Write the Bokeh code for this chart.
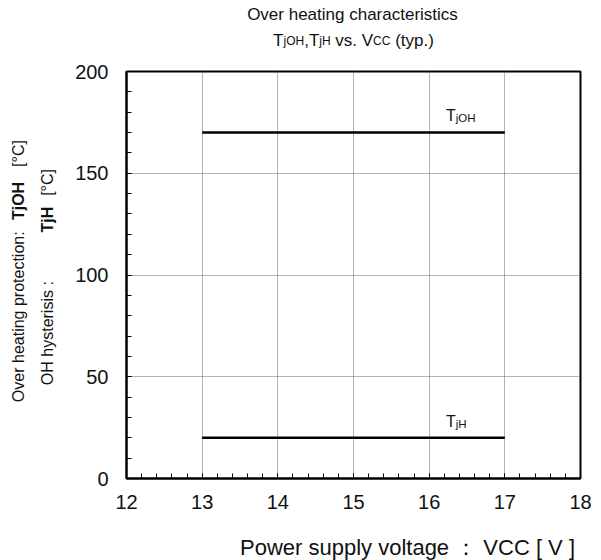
import math
from bokeh.plotting import figure
from bokeh.models import Label, Range1d, FixedTicker
from bokeh.core.properties import value
from bokeh.layouts import column, row
from bokeh.embed import file_html
from bokeh.resources import INLINE

# Supply voltage range over which the thresholds are specified
vcc = [13, 17]
# Over-heating protection trip temperature (TjOH) and hysteresis (TjH), degC
tjoh = [170, 170]
tjh = [20, 20]

x_ticks = [12, 13, 14, 15, 16, 17, 18]
y_ticks = [0, 50, 100, 150, 200]
x_minor = [12 + i * 0.2 for i in range(31)]
y_minor = list(range(0, 201, 10))

FONT = "Liberation Sans"
INK = "#111111"

# Arial-compatible advance widths (1/1000 em) used to chain text runs
ADV = {" ": 278, ",": 278, ".": 278, ":": 278, "(": 333, ")": 333, "[": 278, "]": 278,
       "°": 400, "C": 722, "H": 722, "O": 778, "T": 611, "V": 667, "P": 667,
       "a": 556, "c": 500, "e": 556, "g": 556, "h": 556, "i": 222, "j": 222, "l": 222,
       "n": 556, "o": 556, "p": 556, "r": 333, "s": 500, "t": 278, "u": 556, "v": 500,
       "w": 722, "y": 500}
ADV_BOLD = dict(ADV, j=278)

def width(text, size, bold=False):
    table = ADV_BOLD if bold else ADV
    return sum(table.get(ch, 556) for ch in text) / 1000 * size

W, H = 601, 560
TOP_H, BOT_H = 62, 34
MID_H = H - TOP_H - BOT_H
LEFT_W = 62
MAIN_W = W - LEFT_W

def text_canvas(w, h):
    f = figure(width=w, height=h, output_backend="svg", toolbar_location=None,
               x_range=Range1d(0, w), y_range=Range1d(0, h),
               x_axis_type=None, y_axis_type=None, min_border=0,
               outline_line_color=None, background_fill_color="white",
               border_fill_color="white")
    return f

# ---- main chart -------------------------------------------------------
p = figure(width=MAIN_W, height=MID_H, output_backend="svg", toolbar_location=None,
           x_range=Range1d(12, 18), y_range=Range1d(0, 200),
           min_border_left=126 - LEFT_W, min_border_right=21,
           min_border_top=71 - TOP_H, min_border_bottom=MID_H - (478 - TOP_H))
p.outline_line_color = "black"
p.outline_line_width = 2
p.background_fill_color = "white"
p.border_fill_color = "white"

p.xaxis.ticker = FixedTicker(ticks=x_ticks, minor_ticks=x_minor)
p.yaxis.ticker = FixedTicker(ticks=y_ticks, minor_ticks=y_minor)
for ax in (p.xaxis[0], p.yaxis[0]):
    ax.axis_line_color = "black"
    ax.axis_line_width = 2
    ax.major_tick_in = 5
    ax.major_tick_out = 0
    ax.minor_tick_in = 5
    ax.minor_tick_out = 0
    ax.major_tick_line_color = "black"
    ax.minor_tick_line_color = "black"
    ax.major_label_text_font = FONT
    ax.major_label_text_font_size = "20px"
    ax.major_label_text_color = INK
p.xaxis.major_label_standoff = 16
p.yaxis.major_label_standoff = 18

p.xgrid.ticker = FixedTicker(ticks=x_ticks)
p.ygrid.ticker = FixedTicker(ticks=y_ticks)
for g in (p.xgrid[0], p.ygrid[0]):
    g.grid_line_color = "#666666"
    g.grid_line_dash = "1 1"
    g.grid_line_width = 1

p.line(vcc, tjoh, line_color="black", line_width=2.5)
p.line(vcc, tjh, line_color="black", line_width=2.5)

def curve_label(yv, sub, off):
    p.add_layout(Label(x=16.35, y=yv, text="T", text_font=FONT, text_font_size="16px",
                       text_align="right", text_color=INK, y_offset=off))
    p.add_layout(Label(x=16.35, y=yv, text=sub, text_font=FONT, text_font_size="11.5px",
                       text_align="left", text_color=INK, y_offset=off))

curve_label(tjoh[1], "jOH", 9)
curve_label(tjh[1], "jH", 8)

def put(fig, x, y, text, size, style="normal", align="left", baseline="alphabetic", angle=0):
    fig.text(x=[x], y=[y], text=[text], angle=angle, text_font=value(FONT),
             text_font_size=value(size), text_font_style=value(style),
             text_align=value(align), text_baseline=value(baseline),
             text_color=INK)

# ---- title block ------------------------------------------------------
top = text_canvas(W, TOP_H)
put(top, 352, TOP_H - 14, "Over heating characteristics", "17px", align="center")

runs = [("T", 17), ("jOH", 12), (",T", 17), ("jH", 12), (" vs. V", 17), ("CC", 12), (" (typ.)", 17)]
total = sum(width(t, s) for t, s in runs)
cx = 353 - total / 2
for t, s in runs:
    lead = len(t) - len(t.lstrip(" "))
    cx += width(" " * lead, s)
    put(top, cx, TOP_H - 40, t.lstrip(" "), f"{s}px")
    cx += width(t.lstrip(" "), s)

# ---- rotated y-axis title --------------------------------------------
left = text_canvas(LEFT_W, MID_H)
up = math.pi / 2

def vrun(xc, start, text, bold=False, size=16):
    # each run is anchored at its upper end, computed from where it begins
    end = start - width(text, size, bold)
    put(left, xc, TOP_H + MID_H - end, text, f"{size}px",
        style="bold" if bold else "normal", align="right", baseline="middle", angle=up)

vrun(18, 415, "Over heating protection:")
vrun(18, 226, "TjOH", bold=True)
vrun(18, 167, "[°C]")
vrun(47, 405, "OH hysterisis :")
vrun(47, 242, "TjH", bold=True)
vrun(47, 200, "[°C]")

# ---- x-axis title -----------------------------------------------------
bottom = text_canvas(W, BOT_H)
put(bottom, 407, BOT_H - (547 - (H - BOT_H)), "Power supply voltage ： VCC [ V ]", "22px",
    align="center")

layout = column(top, row(left, p), bottom)
open("out.html", "w").write(file_html(layout, INLINE))
